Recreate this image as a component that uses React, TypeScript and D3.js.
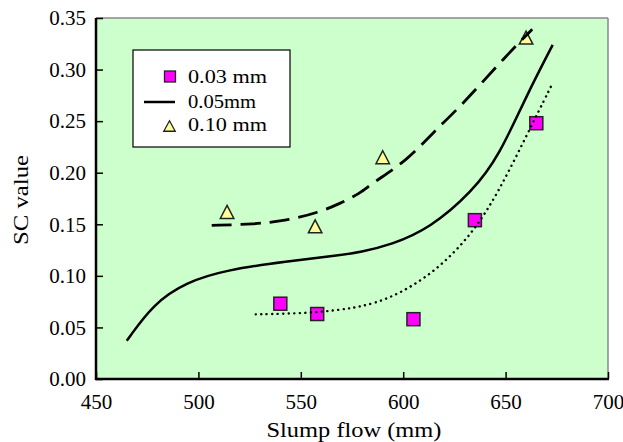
import React, { useEffect, useRef } from "react";
import * as d3 from "d3";

// Measured points
const squareX = [540, 558, 605, 635, 665];
const squareY = [0.073, 0.063, 0.058, 0.154, 0.248];
const triX = [514, 557, 590, 660];
const triY = [0.162, 0.148, 0.215, 0.331];

// Fitted curves
const solidX = [465, 478, 494, 514, 543, 569, 579, 594, 613, 634, 647, 660, 673];
const solidY = [0.037, 0.073, 0.094, 0.106, 0.114, 0.12, 0.123, 0.13, 0.146, 0.182, 0.217, 0.274, 0.324];
const dashX = [506.5, 527, 543, 559, 569, 579, 585, 602, 615, 628, 650.5, 663];
const dashY = [0.149, 0.15, 0.1535, 0.1616, 0.17, 0.18, 0.19, 0.212, 0.24, 0.264, 0.314, 0.339];
const dotX = [528, 553, 569, 579, 594, 615, 634, 647, 660, 672.5];
const dotY = [0.0627, 0.0637, 0.067, 0.07, 0.078, 0.1025, 0.141, 0.183, 0.235, 0.285];

const xTicks = [450, 500, 550, 600, 650, 700];
const yTicks = [0, 0.05, 0.1, 0.15, 0.2, 0.25, 0.3, 0.35];
const legendLabels = ["0.03 mm", "0.05mm", "0.10 mm"];
const xTitle = "Slump flow (mm)";
const yTitle = "SC value";

const W = 623;
const H = 442;
const L = 96, R = 608, T = 18, B = 379;
const FONT = "Liberation Serif, Times New Roman, Times, serif";

const triPath = (w: number, h: number) => `M0,${-h / 2}L${w / 2},${h / 2}L${-w / 2},${h / 2}Z`;

export default function App() {
  const ref = useRef<SVGSVGElement | null>(null);

  useEffect(() => {
    const svg = d3.select(ref.current);
    svg.selectAll("*").remove();

    const x = d3.scaleLinear().domain([450, 700]).range([L, R]);
    const y = d3.scaleLinear().domain([0, 0.35]).range([B, T]);

    svg.append("rect").attr("x", 0).attr("y", 0).attr("width", W).attr("height", H).attr("fill", "#fff");
    svg.append("rect").attr("x", L).attr("y", T).attr("width", R - L).attr("height", B - T).attr("fill", "#ccffcc");

    svg.append("line").attr("x1", L).attr("x2", R).attr("y1", T).attr("y2", T).attr("stroke", "#888").attr("stroke-width", 1.5);
    svg.append("line").attr("x1", R).attr("x2", R).attr("y1", T).attr("y2", B).attr("stroke", "#888").attr("stroke-width", 1.5);

    const xAxis = d3.axisBottom(x).tickValues(xTicks).tickFormat(d3.format("d")).tickSizeInner(-7).tickSizeOuter(0).tickPadding(15);
    const gx = svg.append("g").attr("transform", `translate(0,${B})`).call(xAxis);
    gx.attr("font-family", null).attr("font-size", null);
    gx.select(".domain").remove();
    gx.selectAll("line").attr("stroke", "#000").attr("stroke-width", 1.5);
    gx.selectAll("text").style("font-family", FONT).style("font-size", "21px").attr("fill", "#000");

    const yAxis = d3.axisLeft(y).tickValues(yTicks).tickFormat(d3.format(".2f")).tickSizeInner(-7).tickSizeOuter(0).tickPadding(10);
    const gy = svg.append("g").attr("transform", `translate(${L},0)`).call(yAxis);
    gy.attr("font-family", null).attr("font-size", null);
    gy.select(".domain").remove();
    gy.selectAll("line").attr("stroke", "#000").attr("stroke-width", 1.5);
    gy.selectAll("text").style("font-family", FONT).style("font-size", "21px").attr("fill", "#000");

    svg.append("line").attr("x1", L).attr("x2", L).attr("y1", T).attr("y2", B + 1).attr("stroke", "#000").attr("stroke-width", 2.5);
    svg.append("line").attr("x1", L - 1).attr("x2", R + 1).attr("y1", B).attr("y2", B).attr("stroke", "#000").attr("stroke-width", 2.5);

    const sq = 13;
    svg.append("g").selectAll("rect").data(squareX.map((d, i) => [d, squareY[i]]))
      .join("rect")
      .attr("x", (d) => x(d[0]) - sq / 2).attr("y", (d) => y(d[1]) - sq / 2)
      .attr("width", sq).attr("height", sq)
      .attr("fill", "#ff00ff").attr("stroke", "#222").attr("stroke-width", 1.5);

    svg.append("g").selectAll("path").data(triX.map((d, i) => [d, triY[i]]))
      .join("path")
      .attr("d", triPath(13.5, 13))
      .attr("transform", (d) => `translate(${x(d[0])},${y(d[1])})`)
      .attr("fill", "#ffff99").attr("stroke", "#222").attr("stroke-width", 1.5).attr("stroke-linejoin", "miter");

    const line = d3.line<[number, number]>().x((d) => x(d[0])).y((d) => y(d[1])).curve(d3.curveBasis);
    const mk = (xs: number[], ys: number[]) => xs.map((d, i) => [d, ys[i]] as [number, number]);

    svg.append("path").attr("d", line(mk(solidX, solidY))).attr("fill", "none").attr("stroke", "#000").attr("stroke-width", 2.5);
    svg.append("path").attr("d", line(mk(dashX, dashY))).attr("fill", "none").attr("stroke", "#000").attr("stroke-width", 2.8).attr("stroke-dasharray", "20,9");
    svg.append("path").attr("d", line(mk(dotX, dotY))).attr("fill", "none").attr("stroke", "#000").attr("stroke-width", 2.4).attr("stroke-linecap", "round").attr("stroke-dasharray", "0.1,5.4");

    const lg = svg.append("g");
    lg.append("rect").attr("x", 133).attr("y", 50).attr("width", 157).attr("height", 97).attr("fill", "#fff").attr("stroke", "#000").attr("stroke-width", 1.2);
    lg.append("rect").attr("x", 164.5).attr("y", 71).attr("width", 11).attr("height", 11).attr("fill", "#ff00ff").attr("stroke", "#222").attr("stroke-width", 1.3);
    lg.append("line").attr("x1", 144).attr("x2", 175).attr("y1", 102).attr("y2", 102).attr("stroke", "#000").attr("stroke-width", 2.5);
    lg.append("path").attr("d", triPath(11.5, 10.5))
      .attr("transform", "translate(169.5,126)").attr("fill", "#ffff99").attr("stroke", "#222").attr("stroke-width", 1.3);
    const lgY = [82.5, 107.5, 131];
    const lgW = [79, 68, 79];
    lg.selectAll("text.lt").data(legendLabels).join("text")
      .attr("class", "lt")
      .attr("x", 188).attr("y", (_d, i) => lgY[i])
      .style("font-family", FONT).style("font-size", "19px")
      .attr("textLength", (_d, i) => lgW[i]).attr("lengthAdjust", "spacingAndGlyphs")
      .text((d) => d);

    svg.append("text").attr("x", 354).attr("y", 437).attr("text-anchor", "middle")
      .style("font-family", FONT).style("font-size", "21.5px")
      .attr("textLength", 175).attr("lengthAdjust", "spacingAndGlyphs").text(xTitle);
    svg.append("text").attr("transform", "translate(28,200) rotate(-90)").attr("text-anchor", "middle")
      .style("font-family", FONT).style("font-size", "21.5px")
      .attr("textLength", 90).attr("lengthAdjust", "spacingAndGlyphs").text(yTitle);
  }, []);

  return <svg ref={ref} width={W} height={H} style={{ position: "absolute", left: 0, top: 0 }} />;
}
